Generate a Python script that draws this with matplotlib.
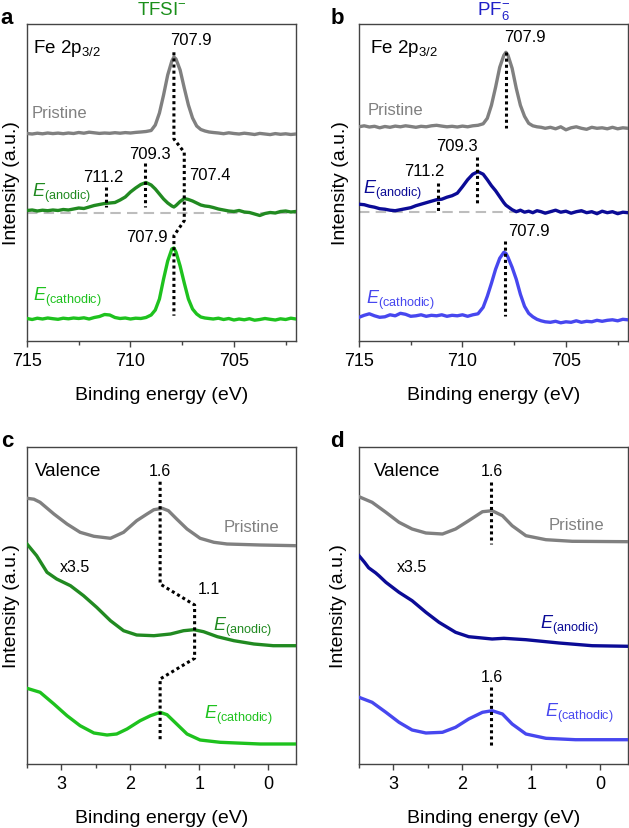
import matplotlib
matplotlib.use("Agg")
import matplotlib.pyplot as plt
from matplotlib.ticker import MultipleLocator

# ---------------- STYLE ----------------
plt.rcParams['font.family'] = ['Liberation Sans', 'DejaVu Sans']
plt.rcParams['mathtext.fontset'] = 'custom'
plt.rcParams['mathtext.rm'] = 'Liberation Sans'
plt.rcParams['mathtext.it'] = 'Liberation Sans:italic'
plt.rcParams['mathtext.default'] = 'rm'

GRAY = '#808080'
GREEN_AN = '#218a21'
GREEN_CA = '#1ec21e'
BLUE_AN = '#0b0b96'
BLUE_CA = '#4747ef'
SPINE = '#444444'

# ---------------- DATA : Fe 2p3/2 (binding energy, eV) ----------------
be_fe = [715.0, 714.75, 714.5, 714.25, 714.0, 713.75, 713.5, 713.25,
         713.0, 712.75, 712.5, 712.25, 712.0, 711.75, 711.5, 711.25,
         711.0, 710.75, 710.5, 710.25, 710.0, 709.75, 709.5, 709.25,
         709.0,
         708.8, 708.6, 708.4, 708.2, 708.0, 707.9,
         707.8, 707.6, 707.4, 707.2, 707.0, 706.8, 706.6, 706.4, 706.2, 706.0,
         705.75, 705.5, 705.25, 705.0, 704.75, 704.5, 704.25, 704.0,
         703.75, 703.5, 703.25, 703.0, 702.75, 702.5, 702.25, 702.0]

# TFSI- electrolyte
fe_tfsi_pristine = [0.5, 0.0, 0.8, 0.2, 1.0, 0.4, 0.9, 0.3,
                    1.0, 0.5, 1.5, 0.8, 1.8, 1.2, 0.6, 1.0,
                    0.7, 1.3, 0.8, 1.4, 1.0, 1.6, 2.0, 2.5,
                    3.5,
                    9, 21, 39, 59, 73, 77,
                    75, 64, 46, 29, 16, 8, 4.5, 3, 2, 1.5,
                    1.0, 0.3, 1.2, 0.5, 0.0, 0.8, 0.2, -0.5,
                    0.6, 0.0, -0.6, 0.4, -0.3, 0.2, -0.5, 0.0]
fe_tfsi_anodic = [0.5, 1.0, 0.0, 0.8, 0.3, 1.0, 0.5, 1.5,
                  1.0, 2.0, 3.0, 2.5, 4.0, 5.5, 6.5, 7.5,
                  8.0, 8.5, 11, 14, 19, 23, 26.5, 28.5,
                  26,
                  22, 17, 12, 8, 5, 4,
                  5.5, 9.5, 12.5, 11.5, 10, 8, 6, 5, 4.5, 3.5,
                  2.0, 1.0, 0.0, -0.5, 0.5, -1.0, -1.5, -3.0,
                  -4.5, -2.5, -1.5, -2.0, -0.5, 0.0, -1.0, -0.5]
fe_tfsi_cathodic = [0.5, -0.5, 0.8, 0.0, 1.0, 0.3, -0.3, 0.8,
                    0.2, 1.0, 0.5, 1.2, 0.0, 1.5, 2.5, 4.5,
                    4.0, 1.5, 0.5, 1.0, 0.0, 0.8, 0.5, 1.5,
                    4.0,
                    9, 20, 40, 58, 70, 71,
                    67, 53, 36, 20, 10, 5, 2, 1, 0.5, 0.0,
                    0.8, -0.5, 0.5, -1.0, 0.0, -0.8, 0.3, -1.2,
                    -0.5, 0.5, -0.3, -1.0, 0.2, -0.5, 0.8, 0.0]

# PF6- electrolyte
fe_pf6_pristine = [0.5, 1.5, 0.3, 1.0, -0.5, 0.8, 0.0, 1.2,
                   0.5, 1.5, 0.8, 0.0, 1.0, 0.5, 1.5, 2.0,
                   1.2, 0.5, 1.0, 0.3, 1.2, 0.5, 1.5, 2.0,
                   3.5,
                   9, 22, 40, 60, 72, 75,
                   72, 59, 39, 22, 11, 4, 1.5, 0.5, 0.0, -1.0,
                   0.0, -1.5, 0.5, -2.5, -0.5, 0.5, -1.0, -2.0,
                   0.0, -1.0, -0.5, -1.5, 0.0, -1.5, -0.5, -1.0]
fe_pf6_anodic = [6.5, 6.0, 4.5, 3.5, 2.0, 1.5, 0.5, 0.0,
                 1.0, 2.0, 3.0, 5.0, 6.5, 8.0, 9.5, 11.0,
                 11.5, 13.5, 15.0, 17.5, 24.0, 31.0, 36.5, 39.0,
                 36.5,
                 31, 25, 20, 14, 8, 5.5,
                 4, 1, -1, 0.5, -1.5, -0.5, -2.0, 0.0, -1.0, -2.5,
                 -1.0, 0.5, -1.5, -0.5, -2.5, -1.0, 0.0, -2.0,
                 -1.0, -3.0, -0.5, -2.0, -1.0, -3.0, -1.5, -2.0]
fe_pf6_cathodic = [0.0, 2.0, 3.5, 1.5, 0.0, 0.5, 2.5, 1.5,
                   4.0, 3.0, 1.0, 1.5, 2.5, 1.0, 2.0, 1.5,
                   2.5, 1.0, 2.0, 1.5, 2.5, 1.0, 2.5, 3.5,
                   10,
                   21, 34, 48, 59, 65, 64,
                   60, 50, 38, 23, 11, 4, 0.5, -2.0, -3.5, -4.5,
                   -5.0, -4.0, -5.5, -4.5, -5.0, -3.5, -5.0, -4.0,
                   -4.5, -3.0, -4.0, -3.0, -2.5, -3.5, -2.0, -2.5]

# ---------------- DATA : valence band ----------------
vb_tfsi_pristine_be = [3.5, 3.4, 3.31, 3.11, 2.92, 2.73, 2.53, 2.29, 2.10, 1.91,
                       1.76, 1.66, 1.54, 1.45, 1.33, 1.18, 0.99, 0.79, 0.60, 0.12, -0.41]
vb_tfsi_pristine = [47.4, 46.5, 43.4, 31.7, 21.7, 13.4, 9.4, 7.4, 13.4, 25.0,
                    31.7, 36.0, 37.4, 35.0, 26.7, 16.7, 7.4, 3.4, 1.7, 0.7, 0.0]
vb_tfsi_anodic_be = [3.5, 3.36, 3.21, 3.07, 2.87, 2.68, 2.49, 2.29, 2.10, 1.91,
                     1.66, 1.42, 1.23, 1.08, 0.94, 0.74, 0.50, 0.21, -0.07, -0.41]
vb_tfsi_anodic = [101.7, 90.0, 73.4, 66.7, 60.0, 50.0, 38.4, 25.0, 15.0, 10.7,
                  10.0, 11.7, 15.0, 16.0, 14.0, 9.0, 5.0, 1.7, 0.0, 0.0]
vb_tfsi_cathodic_be = [3.5, 3.31, 3.11, 2.92, 2.73, 2.53, 2.34, 2.20, 2.05, 1.86,
                       1.71, 1.57, 1.47, 1.33, 1.18, 0.99, 0.70, 0.12, -0.41]
vb_tfsi_cathodic = [55.7, 51.7, 40.0, 28.3, 18.3, 11.0, 9.0, 10.0, 15.0, 23.3,
                    28.3, 31.7, 29.3, 20.0, 10.0, 4.0, 1.7, 0.0, 0.0]

vb_pf6_pristine_be = [3.5, 3.31, 3.11, 2.92, 2.73, 2.53, 2.29, 2.10, 1.91, 1.71,
                      1.57, 1.42, 1.28, 1.08, 0.79, 0.41, -0.41]
vb_pf6_pristine = [45.0, 39.4, 29.4, 19.4, 12.7, 8.7, 7.7, 12.7, 21.0, 30.0,
                   31.0, 26.0, 16.0, 6.0, 2.0, 0.4, 0.0]
vb_pf6_anodic_be = [3.5, 3.42, 3.36, 3.26, 3.21, 3.11, 2.92, 2.73, 2.53, 2.34,
                    2.10, 1.91, 1.57, 1.40, 1.08, 0.60, 0.12, -0.41]
vb_pf6_anodic = [90.6, 84.0, 78.5, 73.5, 70.5, 64.0, 54.0, 45.6, 34.0, 24.0,
                 14.0, 9.6, 7.3, 8.0, 6.6, 3.3, 0.6, 0.0]
vb_pf6_cathodic_be = [3.5, 3.31, 3.11, 2.92, 2.73, 2.53, 2.29, 2.10, 1.91, 1.71,
                      1.57, 1.42, 1.28, 1.08, 0.79, 0.36, -0.41]
vb_pf6_cathodic = [42.4, 37.4, 27.4, 17.4, 9.7, 6.7, 7.4, 12.4, 20.7, 27.4,
                   29.0, 25.7, 15.7, 5.7, 1.4, 0.0, 0.0]

# stacking offsets (pristine, anodic, cathodic)
OFF_A = [207, 130, 22]
OFF_B = [213.7, 130.3, 23.7]
OFF_C = [218.3, 118.3, 20]
OFF_D = [222.3, 117.7, 24.3]

# ---------------- FIGURE ----------------
fig = plt.figure(figsize=(6.29, 8.29), dpi=100)
W, H = 629, 829


def make_ax(left, top, right, bottom):
    return fig.add_axes([left / W, 1 - bottom / H, (right - left) / W, (bottom - top) / H])


def style_ax(ax, xlim, major, minor, ylab_x):
    ax.set_xlim(*xlim)
    ax.set_ylim(0, 317)
    ax.set_yticks([])
    ax.xaxis.set_major_locator(MultipleLocator(major))
    ax.xaxis.set_minor_locator(MultipleLocator(minor))
    ax.tick_params(axis='x', which='major', direction='out', length=4, width=1,
                   color=SPINE, labelsize=13, pad=4)
    ax.tick_params(axis='x', which='minor', direction='out', length=3, width=1, color=SPINE)
    for s in ax.spines.values():
        s.set_color(SPINE)
        s.set_linewidth(1.0)
    ax.set_xlabel('Binding energy (eV)', fontsize=14, labelpad=12)
    ax.set_ylabel('Intensity (a.u.)', fontsize=14)
    ax.yaxis.set_label_coords(ylab_x, 0.5)


def dotted(ax, xs, ys):
    ax.plot(xs, ys, color='black', lw=2.2, linestyle=(0, (1, 1)), zorder=5,
            solid_capstyle='butt', dash_capstyle='butt')


def shift(vals, off):
    return [v + off for v in vals]


LW = 2.4

# ---------------- PANEL a ----------------
ax = make_ax(27, 25, 296, 342)
style_ax(ax, (715, 702), 5, 2.5, -0.026)
ax.axhline(128, color='#bdbdbd', lw=1.5, linestyle=(0, (5, 3)), zorder=1)
ax.plot(be_fe, shift(fe_tfsi_pristine, OFF_A[0]), color=GRAY, lw=LW, zorder=3)
ax.plot(be_fe, shift(fe_tfsi_anodic, OFF_A[1]), color=GREEN_AN, lw=LW, zorder=3)
ax.plot(be_fe, shift(fe_tfsi_cathodic, OFF_A[2]), color=GREEN_CA, lw=LW, zorder=3)
dotted(ax, [707.9, 707.9, 707.4, 707.4, 707.9, 707.9], [288.7, 202, 188.7, 120.3, 105.3, 25.3])
dotted(ax, [709.3, 709.3], [177.7, 133.7])
dotted(ax, [711.2, 711.2], [153.7, 133.7])
ax.text(714.7, 294, r'Fe 2p$_{3/2}$', fontsize=13.5, va='center', ha='left')
ax.text(707.07, 302, '707.9', fontsize=12, ha='center', va='center')
ax.text(714.78, 229, 'Pristine', fontsize=12, color=GRAY, va='center')
ax.text(709.07, 188, '709.3', fontsize=12, ha='center', va='center')
ax.text(711.3, 165, '711.2', fontsize=12, ha='center', va='center')
ax.text(706.18, 167, '707.4', fontsize=12, ha='center', va='center')
ax.text(709.22, 105, '707.9', fontsize=12, ha='center', va='center')
ax.text(714.75, 149, r'$\mathit{E}_{\mathrm{(anodic)}}$', fontsize=13, color=GREEN_AN, va='center')
ax.text(714.7, 45, r'$\mathit{E}_{\mathrm{(cathodic)}}$', fontsize=13, color=GREEN_CA, va='center')
ax.set_title(r'TFSI$^{-}$', fontsize=13.5, color='#1a8f1a', pad=7)
fig.text(7 / W, 1 - 18 / H, 'a', fontsize=16, fontweight='bold', ha='center', va='center')

# ---------------- PANEL b ----------------
ax = make_ax(359, 25, 628, 342)
style_ax(ax, (715, 702), 5, 2.5, -0.037)
ax.axhline(128.7, color='#bdbdbd', lw=1.5, linestyle=(0, (5, 3)), zorder=1)
ax.plot(be_fe, shift(fe_pf6_pristine, OFF_B[0]), color=GRAY, lw=LW, zorder=3)
ax.plot(be_fe, shift(fe_pf6_anodic, OFF_B[1]), color=BLUE_AN, lw=LW, zorder=3)
ax.plot(be_fe, shift(fe_pf6_cathodic, OFF_B[2]), color=BLUE_CA, lw=LW, zorder=3)
dotted(ax, [707.9, 707.9], [288.7, 212.7])
dotted(ax, [709.3, 709.3], [183.7, 136])
dotted(ax, [711.2, 711.2], [158, 130.3])
dotted(ax, [707.95, 707.95], [100.3, 25.3])
ax.text(714.47, 294, r'Fe 2p$_{3/2}$', fontsize=13.5, va='center', ha='left')
ax.text(707.0, 305, '707.9', fontsize=12, ha='center', va='center')
ax.text(714.6, 232, 'Pristine', fontsize=12, color=GRAY, va='center')
ax.text(710.25, 196, '709.3', fontsize=12, ha='center', va='center')
ax.text(711.86, 170, '711.2', fontsize=12, ha='center', va='center')
ax.text(706.8, 110, '707.9', fontsize=12, ha='center', va='center')
ax.text(714.79, 152, r'$\mathit{E}_{\mathrm{(anodic)}}$', fontsize=13, color=BLUE_AN, va='center')
ax.text(714.66, 42, r'$\mathit{E}_{\mathrm{(cathodic)}}$', fontsize=13, color=BLUE_CA, va='center')
ax.set_title(r'PF$_6^{-}$', fontsize=13.5, color='#2020c8', pad=7)
fig.text(337 / W, 1 - 18 / H, 'b', fontsize=16, fontweight='bold', ha='center', va='center')

# ---------------- PANEL c ----------------
ax = make_ax(27, 448, 296, 765)
style_ax(ax, (3.5, -0.4), 1, 0.5, -0.026)
ax.plot(vb_tfsi_pristine_be, shift(vb_tfsi_pristine, OFF_C[0]), color=GRAY, lw=LW, zorder=3)
ax.plot(vb_tfsi_anodic_be, shift(vb_tfsi_anodic, OFF_C[1]), color=GREEN_AN, lw=LW, zorder=3)
ax.plot(vb_tfsi_cathodic_be, shift(vb_tfsi_cathodic, OFF_C[2]), color=GREEN_CA, lw=LW, zorder=3)
dotted(ax, [1.57, 1.57, 1.07, 1.07, 1.57, 1.57], [282.3, 180, 159, 105.7, 85, 23.3])
ax.text(3.38, 293, 'Valence', fontsize=13.5, va='center', ha='left')
ax.text(1.57, 293, '1.6', fontsize=11.5, ha='center', va='center')
ax.text(0.65, 237, 'Pristine', fontsize=12, color=GRAY, va='center')
ax.text(3.02, 197, 'x3.5', fontsize=11.5, va='center')
ax.text(0.87, 175, '1.1', fontsize=11.5, ha='center', va='center')
ax.text(0.81, 138, r'$\mathit{E}_{\mathrm{(anodic)}}$', fontsize=13, color=GREEN_AN, va='center')
ax.text(0.94, 50, r'$\mathit{E}_{\mathrm{(cathodic)}}$', fontsize=13, color=GREEN_CA, va='center')
fig.text(7 / W, 1 - 442 / H, 'c', fontsize=16, fontweight='bold', ha='center', va='center')

# ---------------- PANEL d ----------------
ax = make_ax(359, 448, 628, 765)
style_ax(ax, (3.5, -0.4), 1, 0.5, -0.045)
ax.plot(vb_pf6_pristine_be, shift(vb_pf6_pristine, OFF_D[0]), color=GRAY, lw=LW, zorder=3)
ax.plot(vb_pf6_anodic_be, shift(vb_pf6_anodic, OFF_D[1]), color=BLUE_AN, lw=LW, zorder=3)
ax.plot(vb_pf6_cathodic_be, shift(vb_pf6_cathodic, OFF_D[2]), color=BLUE_CA, lw=LW, zorder=3)
dotted(ax, [1.58, 1.58], [282.3, 220])
dotted(ax, [1.58, 1.58], [77, 17])
ax.text(3.28, 293, 'Valence', fontsize=13.5, va='center', ha='left')
ax.text(1.58, 293, '1.6', fontsize=11.5, ha='center', va='center')
ax.text(0.75, 240, 'Pristine', fontsize=12, color=GRAY, va='center')
ax.text(2.95, 197, 'x3.5', fontsize=11.5, va='center')
ax.text(0.88, 140, r'$\mathit{E}_{\mathrm{(anodic)}}$', fontsize=13, color=BLUE_AN, va='center')
ax.text(1.58, 88, '1.6', fontsize=11.5, ha='center', va='center')
ax.text(0.81, 52, r'$\mathit{E}_{\mathrm{(cathodic)}}$', fontsize=13, color=BLUE_CA, va='center')
fig.text(337 / W, 1 - 442 / H, 'd', fontsize=16, fontweight='bold', ha='center', va='center')

fig.savefig('out.png', dpi=100)
